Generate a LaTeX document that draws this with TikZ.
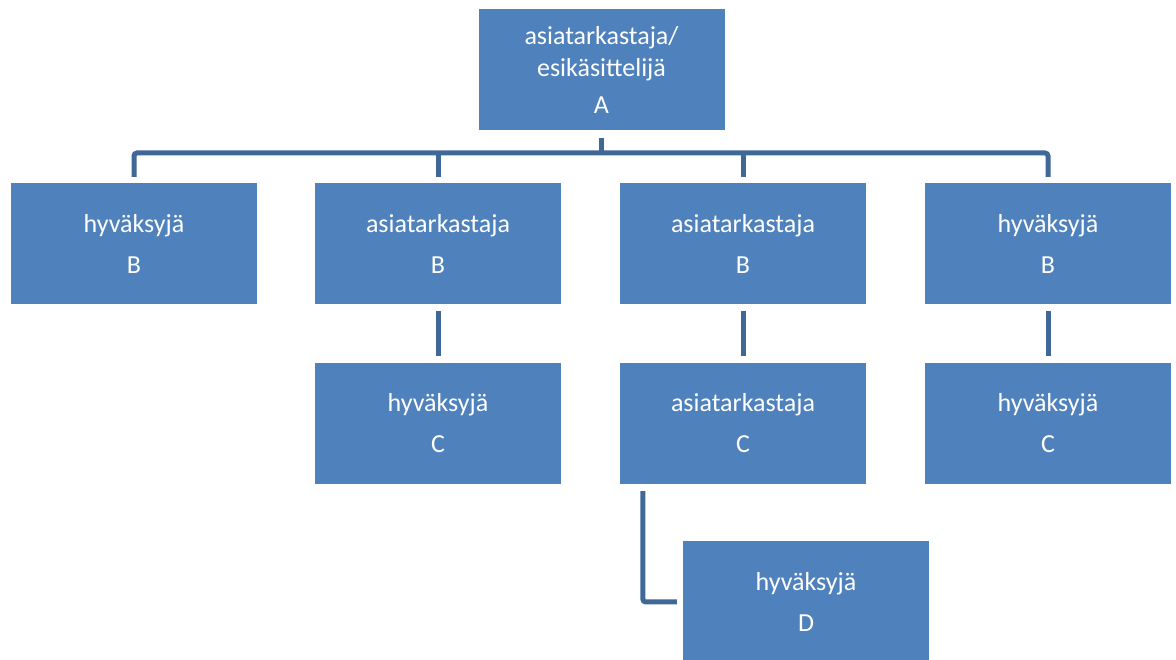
\documentclass[tikz,border=0pt]{standalone}
\usepackage{fontspec}
\setmainfont{Carlito}
\definecolor{boxblue}{HTML}{4F81BD}
\definecolor{lineblue}{HTML}{3F6898}
\begin{document}
\begin{tikzpicture}[x=1pt,y=1pt,
  box/.style={rectangle, fill=boxblue, text=white, minimum width=246pt, minimum height=121pt,
    inner sep=0pt, align=center, font=\fontsize{26}{32}\selectfont},
  conn/.style={draw=lineblue, line width=5pt, rounded corners=3pt}]
\useasboundingbox (0,0) rectangle (1176,660);
% boxes (y = 660 - pixel y)
\node[box] (A)  at (601.5,590) {asiatarkastaja/\\esikäsittelijä\\[5pt]A};
\node[box] (B1) at (134,416.5) {hyväksyjä\\[9pt]B};
\node[box] (B2) at (438,416.5) {asiatarkastaja\\[9pt]B};
\node[box] (B3) at (743,416.5) {asiatarkastaja\\[9pt]B};
\node[box] (B4) at (1048,416.5) {hyväksyjä\\[9pt]B};
\node[box] (C2) at (438,236.5) {hyväksyjä\\[9pt]C};
\node[box] (C3) at (743,236.5) {asiatarkastaja\\[9pt]C};
\node[box] (C4) at (1048,236.5) {hyväksyjä\\[9pt]C};
\node[box] (D)  at (806,58) {hyväksyjä\\[9pt]D};
\coordinate (bus) at (0,507);
% connectors
\draw[conn] ([yshift=-7pt]A.south) -- (A.south |- bus);
\draw[conn] ([yshift=6pt]B1.north) -- (B1.north |- bus) -- (B4.north |- bus) -- ([yshift=6pt]B4.north);
\draw[conn] (B2.north |- bus) -- ([yshift=6pt]B2.north);
\draw[conn] (B3.north |- bus) -- ([yshift=6pt]B3.north);
\draw[conn] ([yshift=-7pt]B2.south) -- ([yshift=7pt]C2.north);
\draw[conn] ([yshift=-7pt]B3.south) -- ([yshift=7pt]C3.north);
\draw[conn] ([yshift=-7pt]B4.south) -- ([yshift=7pt]C4.north);
\draw[conn] ([xshift=23pt,yshift=-7pt]C3.south west) |- ([xshift=-6pt]D.west);
\end{tikzpicture}
\end{document}
